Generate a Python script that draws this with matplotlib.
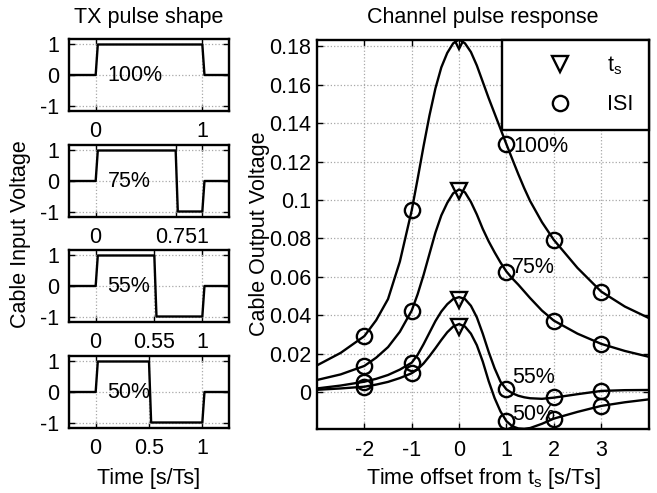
import matplotlib
matplotlib.use("Agg")
import matplotlib.pyplot as plt
from matplotlib.lines import Line2D

plt.rcParams['font.family'] = ['Liberation Sans', 'DejaVu Sans']
plt.rcParams['mathtext.fontset'] = 'custom'
plt.rcParams['mathtext.rm'] = 'Liberation Sans'
plt.rcParams['axes.unicode_minus'] = False

# --- TX pulse shapes (time in UI, voltage) ---
duty_labels = ['100%', '75%', '55%', '50%']
pulse_t_100 = [-0.25, 0, 0.02, 1.0, 1.02, 1.25]
pulse_v_100 = [0, 0, 1, 1, 0, 0]
pulse_t_75 = [-0.25, 0, 0.02, 0.75, 0.77, 1.0, 1.02, 1.25]
pulse_v_75 = [0, 0, 1, 1, -1, -1, 0, 0]
pulse_t_55 = [-0.25, 0, 0.02, 0.55, 0.57, 1.0, 1.02, 1.25]
pulse_v_55 = [0, 0, 1, 1, -1, -1, 0, 0]
pulse_t_50 = [-0.25, 0, 0.02, 0.5, 0.52, 1.0, 1.02, 1.25]
pulse_v_50 = [0, 0, 1, 1, -1, -1, 0, 0]
pulse_xticks = [[0, 1], [0, 0.75, 1], [0, 0.55, 1], [0, 0.5, 1]]
pulse_xticklabels = [['0', '1'], ['0', '0.75', '1'], ['0', '0.55', '1'], ['0', '0.5', '1']]

# --- channel pulse responses ---
t_offset = [-3, -2.5, -2, -1.75, -1.5, -1.25, -1, -0.875, -0.75, -0.625, -0.5,
            -0.375, -0.25, -0.125, 0, 0.125, 0.25, 0.375, 0.5, 0.625, 0.75, 0.875,
            1, 1.125, 1.25, 1.375, 1.5, 1.75, 2, 2.5, 3, 3.5, 4]
resp_100 = [0.0140, 0.0205, 0.0292, 0.0375, 0.0485, 0.0680, 0.0946, 0.1110, 0.1280,
            0.1440, 0.1580, 0.1690, 0.1765, 0.1815, 0.1835, 0.1815, 0.1770, 0.1700,
            0.1615, 0.1530, 0.1450, 0.1370, 0.1290, 0.1212, 0.1135, 0.1062, 0.0995,
            0.0885, 0.0793, 0.0647, 0.0524, 0.0446, 0.0387]
resp_75 = [0.0064, 0.0093, 0.0137, 0.0180, 0.0235, 0.0315, 0.0425, 0.0510, 0.0610,
           0.0720, 0.0830, 0.0920, 0.0985, 0.1035, 0.1055, 0.1040, 0.0990, 0.0925,
           0.0850, 0.0785, 0.0728, 0.0675, 0.0628, 0.0592, 0.0560, 0.0525, 0.0490,
           0.0425, 0.0373, 0.0305, 0.0252, 0.0215, 0.0185]
resp_55 = [0.0020, 0.0035, 0.0055, 0.0070, 0.0090, 0.0118, 0.0154, 0.0195, 0.0250,
           0.0310, 0.0370, 0.0420, 0.0458, 0.0485, 0.0495, 0.0485, 0.0450, 0.0390,
           0.0305, 0.0210, 0.0125, 0.0055, 0.0015, -0.0005, -0.0018, -0.0026, -0.0031,
           -0.0034, -0.0028, -0.0010, 0.0007, 0.0011, 0.0012]
resp_50 = [0.0013, 0.0020, 0.0029, 0.0040, 0.0054, 0.0074, 0.0099, 0.0120, 0.0150,
           0.0188, 0.0229, 0.0272, 0.0312, 0.0342, 0.0355, 0.0342, 0.0305, 0.0245,
           0.0160, 0.0058, -0.0030, -0.0100, -0.0150, -0.0177, -0.0188, -0.0190, -0.0186,
           -0.0164, -0.0137, -0.0102, -0.0071, -0.0052, -0.0037]

ts_x = [0]
ts_100, ts_75, ts_55, ts_50 = [0.1826], [0.1045], [0.0480], [0.0342]
isi_x = [-2, -1, 1, 2, 3]
isi_100 = [0.0292, 0.0946, 0.1290, 0.0793, 0.0524]
isi_75 = [0.0137, 0.0425, 0.0628, 0.0373, 0.0252]
isi_55 = [0.0055, 0.0154, 0.0015, -0.0027, 0.0008]
isi_50 = [0.0029, 0.0099, -0.0150, -0.0137, -0.0071]

resp_yticks = [0, 0.02, 0.04, 0.06, 0.08, 0.1, 0.12, 0.14, 0.16, 0.18]
resp_yticklabels = ['0', '0.02', '0.04', '0.06', '0.08', '0.1', '0.12', '0.14', '0.16', '0.18']
resp_xticks = [-2, -1, 0, 1, 2, 3]

FS = 15.5
W, H = 657, 493
fig = plt.figure(figsize=(W / 100, H / 100), dpi=100)


def px_rect(x0, y0, x1, y1):
    return [x0 / W, 1 - y1 / H, (x1 - x0) / W, (y1 - y0) / H]


def style_axes(ax):
    for s in ax.spines.values():
        s.set_linewidth(1.7)
    ax.tick_params(direction='in', top=True, right=True, length=4, width=1,
                   labelsize=FS)
    ax.grid(True, color='#a8a8a8', linestyle=':', linewidth=0.9)
    ax.set_axisbelow(True)


# left column
pulses = [(pulse_t_100, pulse_v_100), (pulse_t_75, pulse_v_75),
          (pulse_t_55, pulse_v_55), (pulse_t_50, pulse_v_50)]
tops = [39, 145, 250, 356]
for i, (t, v) in enumerate(pulses):
    ax = fig.add_axes(px_rect(69, tops[i], 229, tops[i] + 72))
    style_axes(ax)
    ax.plot(t, v, color='k', lw=1.7)
    ax.set_xlim(-0.25, 1.25)
    ax.set_ylim(-1.18, 1.18)
    ax.set_yticks([-1, 0, 1])
    ax.set_yticklabels(['-1', '0', '1'])
    ax.set_xticks(pulse_xticks[i])
    ax.set_xticklabels(pulse_xticklabels[i])
    ax.tick_params(axis='y', pad=7)
    ax.tick_params(axis='x', pad=7)
    ax.text(0.11, -0.02, duty_labels[i], fontsize=FS, ha='left', va='center')

# right panel
ax = fig.add_axes(px_rect(317, 39.5, 648.5, 429))
style_axes(ax)
for resp, tsv, isiv in [(resp_100, ts_100, isi_100), (resp_75, ts_75, isi_75),
                        (resp_55, ts_55, isi_55), (resp_50, ts_50, isi_50)]:
    ax.plot(t_offset, resp, color='k', lw=1.7)
    ax.plot(ts_x, tsv, ls='none', marker='v', ms=12, mfc='none', mec='k', mew=1.7)
    ax.plot(isi_x, isiv, ls='none', marker='o', ms=11, mfc='none', mec='k', mew=1.7)
ax.set_xlim(-3, 4)
ax.set_ylim(-0.0191, 0.1835)
ax.set_xticks(resp_xticks)
ax.set_yticks(resp_yticks)
ax.set_yticklabels(resp_yticklabels)
ax.tick_params(axis='x', pad=8)
ax.tick_params(axis='y', pad=4)

for lbl, (x, y) in zip(duty_labels, [(1.15, 0.128), (1.12, 0.0647),
                                     (1.12, 0.0075), (1.12, -0.0115)]):
    ax.text(x, y, lbl, fontsize=FS, ha='left', va='center')

handles = [Line2D([], [], ls='none', marker='v', ms=12, mfc='none', mec='k', mew=1.7),
           Line2D([], [], ls='none', marker='o', ms=11, mfc='none', mec='k', mew=1.7)]
leg = ax.legend(handles, [r'$\mathregular{t_s}$', 'ISI'], loc='upper right',
                bbox_to_anchor=(1, 1), borderaxespad=0, fancybox=False,
                framealpha=1, edgecolor='k', fontsize=FS, borderpad=0.7,
                handlelength=4.0, handletextpad=0.2, labelspacing=0.8)
leg.get_frame().set_linewidth(1.7)

# titles and axis labels
fig.text(149 / W, 1 - 23 / H, 'TX pulse shape', fontsize=FS, ha='center', va='baseline')
fig.text(483 / W, 1 - 23 / H, 'Channel pulse response', fontsize=FS, ha='center', va='baseline')
fig.text(21 / W, 1 - 234 / H, 'Cable Input Voltage', fontsize=FS, rotation=90,
         ha='center', va='center')
fig.text(259 / W, 1 - 234 / H, 'Cable Output Voltage', fontsize=FS, rotation=90,
         ha='center', va='center')
fig.text(149 / W, 1 - 484 / H, 'Time [s/Ts]', fontsize=FS, ha='center', va='baseline')
fig.text(483 / W, 1 - 484 / H, r'Time offset from t$_\mathregular{s}$ [s/Ts]',
         fontsize=FS, ha='center', va='baseline')

fig.savefig('out.png', dpi=100, facecolor='white')
